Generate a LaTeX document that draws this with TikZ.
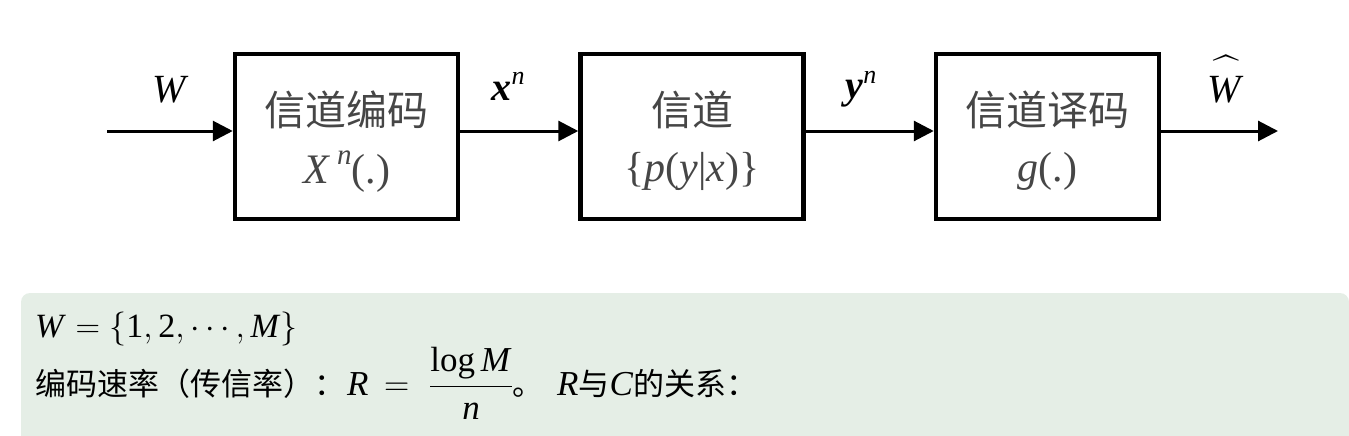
\RequirePackage{fix-cm}
\documentclass[tikz,border=0pt]{standalone}
\usepackage{exscale}
\usepackage{graphicx}
\usepackage{fontspec}
\setmainfont{Liberation Serif}
\newfontfamily\cjk{Noto Sans CJK SC}
\usetikzlibrary{arrows.meta}
\definecolor{panelgreen}{RGB}{229,238,230}
\definecolor{boxtext}{RGB}{70,70,70}
\newcommand{\cjkb}[1]{{\cjk\fontsize{31}{34}\selectfont #1}}
\newcommand{\hatW}{\ooalign{\textit{W}\cr\hidewidth\raisebox{-2pt}{\scalebox{1.85}[1.45]{$\widehat{\vphantom{\mbox{\textit{W}}}\hbox to 0.5em{}}$}}\hidewidth\cr}}
\begin{document}
\begin{tikzpicture}[x=1pt,y=-1pt,
  blockbox/.style={draw=black,line width=4.5pt,minimum width=223pt,minimum height=165pt,inner sep=0pt},
  cntext/.style={font=\cjk\fontsize{41}{44}\selectfont,text=boxtext,inner sep=0pt},
  mtext/.style={font=\fontsize{42}{46}\selectfont,text=boxtext,inner sep=0pt},
  lbl/.style={font=\fontsize{40}{44}\selectfont,inner sep=0pt,anchor=base},
  arr/.style={line width=3pt,-{Triangle[length=20pt,width=20pt]}},
  btext/.style={font=\fontsize{35}{38}\selectfont,inner sep=0pt,anchor=base west}]
\useasboundingbox (0,0) rectangle (1349,436);
% panel
\fill[panelgreen] (21,436) [rounded corners=9pt]-- (21,293) -- (1349,293) [sharp corners]-- (1349,436) -- cycle;
% boxes
\node[blockbox] (b1) at (346.5,136.5) {};
\node[blockbox] (b2) at (692,136.5) {};
\node[blockbox] (b3) at (1047.5,136.5) {};
% box texts
\node[cntext] (t1) at ([yshift=27pt]b1.center) {信道编码};
\node[mtext]  (m1) at ([yshift=-35pt]b1.center) {\textit{X}\,\raisebox{0.45em}{\fontsize{29}{31}\selectfont\textit{n}}(.)};
\node[cntext] (t2) at ([yshift=27pt]b2.center) {信道};
\node[mtext]  (m2) at ([yshift=-35pt]b2.center) {\{\textit{p}(\textit{y}|\textit{x})\}};
\node[cntext] (t3) at ([yshift=27pt]b3.center) {信道译码};
\node[mtext]  (m3) at ([yshift=-35pt]b3.center) {\textit{g}(.)};
% arrows
\coordinate (in) at (107,131);
\coordinate (out) at (1278,131);
\draw[arr] (in) -- (in -| b1.west);
\draw[arr] ([yshift=5.5pt]b1.east) -- ([yshift=5.5pt]b2.west);
\draw[arr] ([yshift=5.5pt]b2.east) -- ([yshift=5.5pt]b3.west);
\draw[arr] ([yshift=5.5pt]b3.east) -- (out);
% labels
\node[lbl] (lw) at (171,102) {\textit{W}};
\node[lbl] (lx) at (508,100) {\textbf{\textit{x}}\raisebox{0.4em}{\fontsize{26}{28}\selectfont\textit{n}}};
\node[lbl] (ly) at (861,99) {\textbf{\textit{y}}\raisebox{0.4em}{\fontsize{26}{28}\selectfont\textit{n}}};
\node[lbl] (lwh) at (1226,102) {\hatW};
% bottom text
\node[btext,font=\fontsize{34}{38}\selectfont] (l1) at (35,337) {$\mbox{\textit{W}} = \{\mbox{1}, \mbox{2}, \cdots, \mbox{\textit{M}}\}$};
\node[btext] (l2a) at (35,395) {\cjkb{编码速率（传信率）：}};
\node[btext] (l2b) at (347,395) {$\mbox{\textit{R}}\,=$};
\node[btext,anchor=base] (l2c) at (471,395) {$\displaystyle\frac{\mbox{log\,\textit{M}}}{\mbox{\textit{n}}}$};
\node[btext] (l2d) at (512,395) {\cjkb{。}};
\node[btext] (l2e) at (557,395) {\textit{R}\cjkb{与}\textit{C}\cjkb{的关系：}};
\end{tikzpicture}
\end{document}
